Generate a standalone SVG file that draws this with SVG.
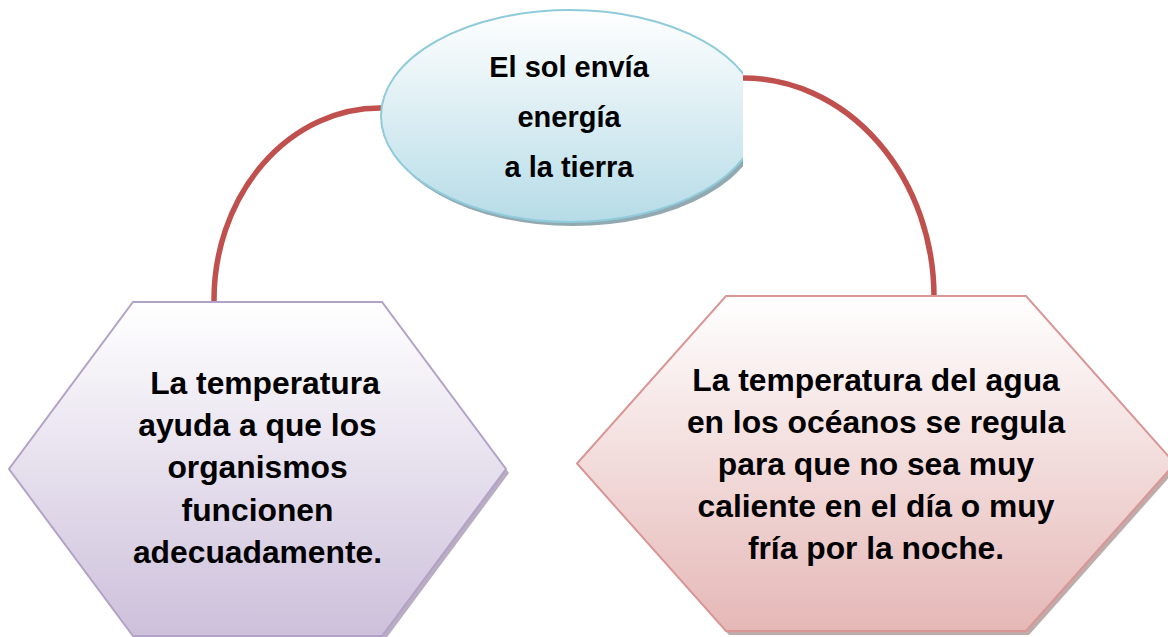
<svg xmlns="http://www.w3.org/2000/svg" width="1168" height="637" viewBox="0 0 1168 637">
<style>
.t{font-family:"Liberation Sans",Arial,sans-serif;font-weight:bold;fill:#000;text-anchor:middle}
.e{font-size:29px}
.h{font-size:31.8px}
.conn{fill:none;stroke:#c0504d;stroke-width:5.5}
</style>
<defs>
<linearGradient id="gBlue" x1="0" y1="0" x2="0" y2="1">
<stop offset="0" stop-color="#ffffff"/>
<stop offset="1" stop-color="#b6dce7"/>
</linearGradient>
<linearGradient id="gPurple" x1="0" y1="0" x2="0" y2="1">
<stop offset="0" stop-color="#ffffff"/>
<stop offset="1" stop-color="#cdc0db"/>
</linearGradient>
<linearGradient id="gPink" x1="0" y1="0" x2="0" y2="1">
<stop offset="0" stop-color="#ffffff"/>
<stop offset="1" stop-color="#e5b8b7"/>
</linearGradient>
<clipPath id="clipE"><rect x="0" y="0" width="743" height="260"/></clipPath>
</defs>
<rect width="1168" height="637" fill="#ffffff"/>
<g id="connectors">
<path class="conn" d="M381,108 A166,192 0 0 0 214,301"/>
<path class="conn" d="M743,78 A191,219 0 0 1 934,297"/>
</g>
<g id="node-sun">
<g clip-path="url(#clipE)">
<ellipse cx="573" cy="120" rx="189" ry="106" fill="#93a9b1"/>
<ellipse cx="570" cy="116" rx="189" ry="106" fill="url(#gBlue)" stroke="#8fcbdb" stroke-width="2"/>
</g>
<text class="t e" x="569" y="77">El sol envía</text>
<text class="t e" x="569" y="127">energía</text>
<text class="t e" x="569" y="177">a la tierra</text>
</g>
<g id="node-organismos">
<polygon points="136,306 385,306 509,473 385,640 136,640 12,473" fill="#a699b3" opacity="0.8"/>
<polygon points="133,302 382,302 506,469 382,636 133,636 9,469" fill="url(#gPurple)" stroke="#b3a2c7" stroke-width="2"/>
<text class="t h" x="265" y="394">La temperatura</text>
<text class="t h" x="257.5" y="436">ayuda a que los</text>
<text class="t h" x="257.5" y="478">organismos</text>
<text class="t h" x="257.5" y="521">funcionen</text>
<text class="t h" x="257.5" y="563">adecuadamente.</text>
</g>
<g id="node-oceanos">
<polygon points="729,300 1029,300 1178,467.5 1029,635 729,635 580,467.5" fill="#b09696" opacity="0.8"/>
<polygon points="726,296 1026,296 1175,463.5 1026,631 726,631 577,463.5" fill="url(#gPink)" stroke="#d99694" stroke-width="2"/>
<text class="t h" x="876" y="391">La temperatura del agua</text>
<text class="t h" x="876" y="433">en los océanos se regula</text>
<text class="t h" x="876" y="475">para que no sea muy</text>
<text class="t h" x="876" y="517">caliente en el día o muy</text>
<text class="t h" x="876" y="559">fría por la noche.</text>
</g>
</svg>
